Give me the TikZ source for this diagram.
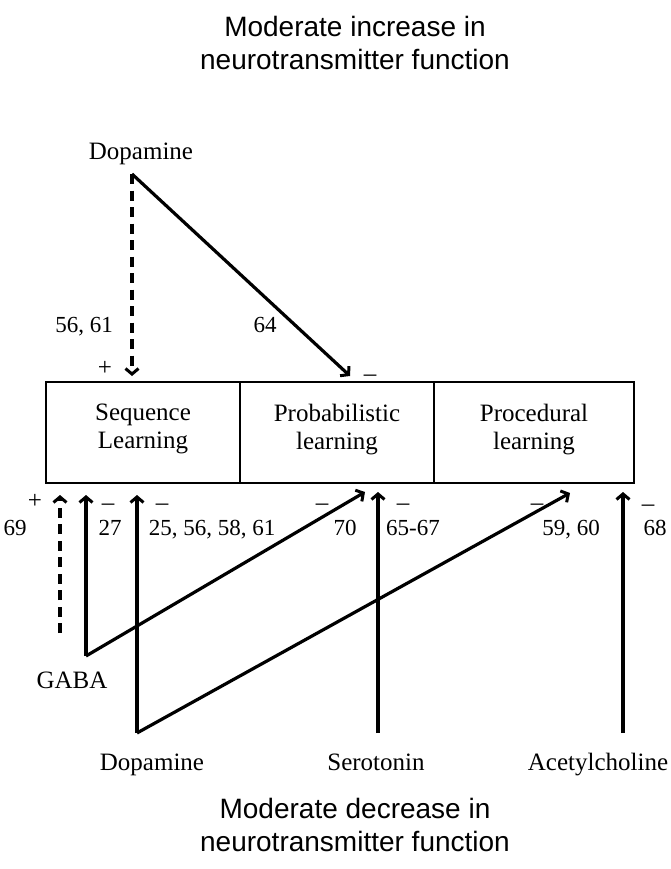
\documentclass[tikz,border=0pt]{standalone}
\usepackage{fontspec}
\setmainfont{Liberation Serif}
\newfontfamily\titlefont{Liberation Sans}
\usetikzlibrary{arrows.meta}
\begin{document}
\begin{tikzpicture}[x=1pt,y=-1pt,
  lbl/.style={font=\fontsize{25}{28}\selectfont, inner sep=0pt, text height=0.7em, text depth=0.22em},
  num/.style={font=\fontsize{23}{26}\selectfont, inner sep=0pt, text height=0.7em, text depth=0.22em},
  sgn/.style={font=\fontsize{25}{28}\selectfont, inner sep=0pt, text height=0.7em, text depth=0.22em},
  ttl/.style={font=\titlefont\fontsize{28}{33}\selectfont, align=center, inner sep=0pt},
  cell/.style={draw, line width=1.6pt, minimum height=101pt, align=center, font=\fontsize{25}{28}\selectfont, inner sep=0pt},
  arr/.style={line width=3.2pt, -{Straight Barb[length=5.5pt,width=13pt,line width=3pt]}},
  darr/.style={arr, dash pattern=on 10pt off 6.5pt},
]
\useasboundingbox (0,0) rectangle (670,869);

% titles
\node[ttl] (tup) at (355,43) {Moderate increase in\\neurotransmitter function};
\node[ttl] (tdown) at (355,825) {Moderate decrease in\\neurotransmitter function};

% box cells
\node[cell, minimum width=194pt] (seq) at (143,432.5) {Sequence\\Learning\\[-16pt]};
\node[cell, minimum width=194pt] (prob) at (337,432.5) {Probabilistic\\learning\\[-16pt]};
\node[cell, minimum width=200pt] (proc) at (534,432.5) {Procedural\\learning\\[-16pt]};

% top neurotransmitter
\node[lbl] (dtopname) at (141,157) {Dopamine};
\coordinate (dtop) at (132,174);
\coordinate (seqin) at (132,376);
\coordinate (probin) at (350,376);
\draw[darr] (dtop) -- (seqin);
\draw[arr] (dtop) -- (probin);
\node[num] (n5661) at (84,330) {56, 61};
\node[num] (n64) at (265,330) {64};
\node[sgn] (ptop) at (105,373) {+};
\node[sgn] (mtop) at (370,379) {–};

% bottom neurotransmitters
\node[lbl] (gaba) at (72,686) {GABA};
\node[lbl] (dbot) at (152,768) {Dopamine};
\node[lbl] (sero) at (376,768) {Serotonin};
\node[lbl] (ach) at (598,768) {Acetylcholine};

\coordinate (gdash) at (60,633);
\coordinate (gdashtip) at (60,495);
\coordinate (gv) at (86,656);
\coordinate (gtip) at (86,495);
\coordinate (gprob) at (365,492);
\coordinate (dv) at (137,733);
\coordinate (dtip) at (137,495);
\coordinate (dproc) at (570,493);
\coordinate (sv) at (378,733);
\coordinate (stip) at (378,492);
\coordinate (av) at (623,733);
\coordinate (atip) at (623,492);

\draw[darr] (gdash) -- (gdashtip);
\draw[arr] (gv) -- (gtip);
\draw[arr] (gv) -- (gprob);
\draw[arr] (dv) -- (dtip);
\draw[arr] (dv) -- (dproc);
\draw[arr] (sv) -- (stip);
\draw[arr] (av) -- (atip);

% bottom signs and references
\node[sgn] (p69) at (35,506) {+};
\node[num] (n69) at (15,533) {69};
\node[sgn] (m27) at (108,508) {–};
\node[num] (n27) at (110,533) {27};
\node[sgn] (m25) at (162,508) {–};
\node[num] (n25) at (212,533) {25, 56, 58, 61};
\node[sgn] (m70) at (322,508) {–};
\node[num] (n70) at (345,533) {70};
\node[sgn] (m65) at (403,508) {–};
\node[num] (n65) at (413,533) {65-67};
\node[sgn] (m59) at (537,508) {–};
\node[num] (n59) at (571,533) {59, 60};
\node[sgn] (m68) at (648,509) {–};
\node[num] (n68) at (655,533) {68};
\end{tikzpicture}
\end{document}
